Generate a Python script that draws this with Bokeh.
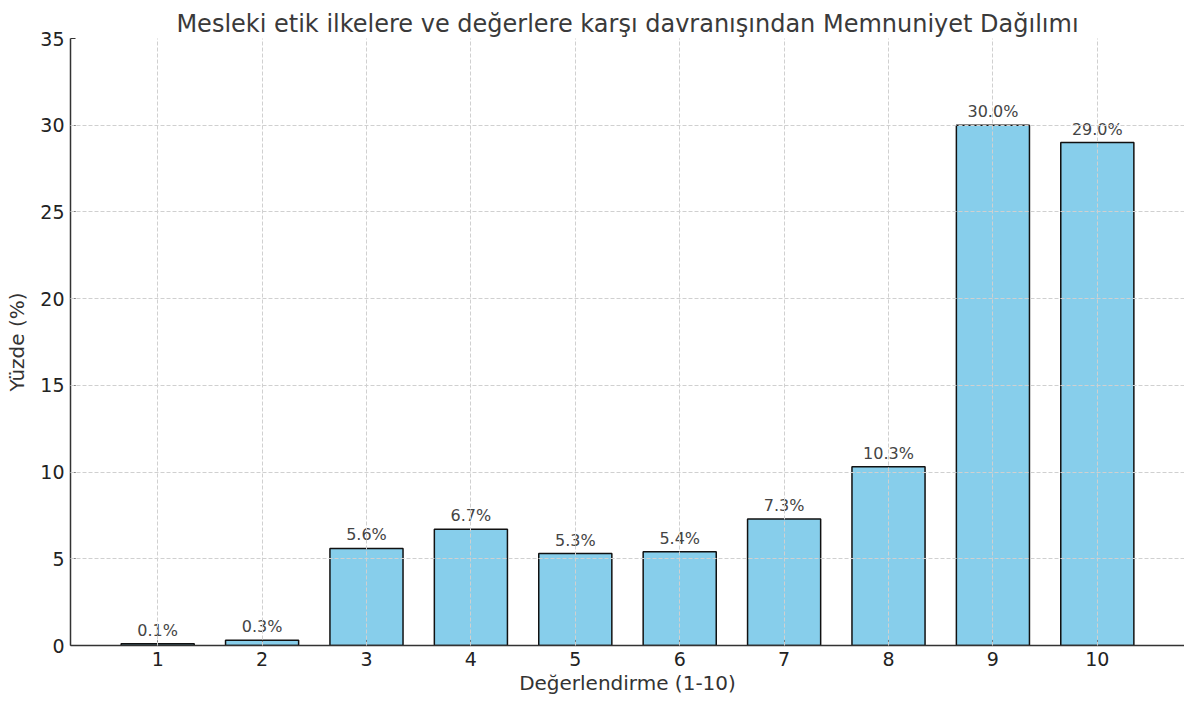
from bokeh.plotting import figure
from bokeh.models import ColumnDataSource, Range1d, FixedTicker, LabelSet
from bokeh.core.properties import value
from bokeh.embed import file_html
from bokeh.resources import INLINE

ratings = [1, 2, 3, 4, 5, 6, 7, 8, 9, 10]
percents = [0.1, 0.3, 5.6, 6.7, 5.3, 5.4, 7.3, 10.3, 30.0, 29.0]
labels = [f"{v:.1f}%" for v in percents]
y_ticks = [0, 5, 10, 15, 20, 25, 30, 35]

src = ColumnDataSource(dict(x=ratings, top=percents, label=labels))

FONT = "DejaVu Sans"
p = figure(width=1184, height=697, output_backend="svg", toolbar_location=None,
           x_range=Range1d(0.165, 10.835), y_range=Range1d(0, 35),
           title="Mesleki etik ilkelere ve değerlere karşı davranışından Memnuniyet Dağılımı",
           min_border_left=70, min_border_right=0, min_border_top=38, min_border_bottom=49)

p.vbar(x="x", top="top", width=0.7, bottom=0, source=src,
       fill_color="#87CEEB", line_color="#111111", line_width=1.5)

p.add_layout(LabelSet(x="x", y="top", text="label", source=src, y_offset=4,
                      text_align="center", text_baseline="bottom",
                      text_font=value(FONT), text_font_size="16px", text_color="#444444"))

p.title.align = "center"
p.title.text_font = FONT
p.title.text_font_size = "24px"
p.title.text_font_style = "normal"
p.title.text_color = "#3a3a3a"
p.title.offset = 0
p.title.standoff = 2

p.outline_line_color = None
for ax in (p.xaxis, p.yaxis):
    ax.major_tick_in = 5
    ax.major_tick_out = 0
    ax.minor_tick_line_color = None
    ax.axis_line_color = "#333333"
    ax.axis_line_width = 1.5
    ax.major_tick_line_color = "#333333"
    ax.major_label_text_font = FONT
    ax.major_label_text_font_size = "19px"
    ax.major_label_text_color = "#222222"
    ax.axis_label_text_font = FONT
    ax.axis_label_text_font_size = "20px"
    ax.axis_label_text_font_style = "normal"
    ax.axis_label_text_color = "#333333"
    ax.major_label_standoff = 6

p.xaxis.ticker = FixedTicker(ticks=ratings)
p.yaxis.ticker = FixedTicker(ticks=y_ticks)
p.xaxis.axis_label = "Değerlendirme (1-10)"
p.yaxis.axis_label = "Yüzde (%)"
p.xaxis.axis_label_standoff = 2
p.yaxis.axis_label_standoff = 8

for g in (p.xgrid, p.ygrid):
    g.grid_line_color = "#d0d0d0"
    g.grid_line_dash = "4 2"
    g.grid_line_width = 1
    g.level = "overlay"

open("out.html", "w").write(file_html(p, INLINE))
